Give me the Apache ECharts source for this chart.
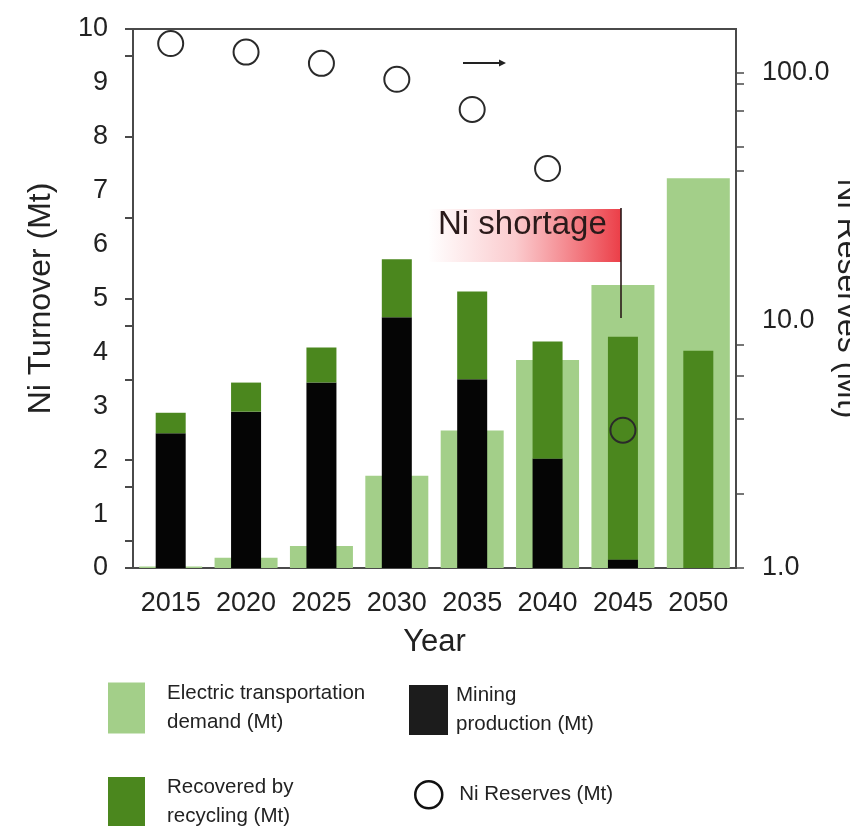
<!DOCTYPE html>
<html>
<head>
<meta charset="utf-8">
<script src="https://cdn.jsdelivr.net/npm/echarts@6/dist/echarts.min.js"></script>
<style>
  html, body { margin: 0; padding: 0; background: #ffffff; }
  #chart { width: 850px; height: 826px; }
</style>
</head>
<body>
<div id="chart"></div>
<script>
// Nickel turnover by year (Mt)
const years = ['2015', '2020', '2025', '2030', '2035', '2040', '2045', '2050'];
const transportDemand = [0.03, 0.19, 0.41, 1.71, 2.55, 3.86, 5.25, 7.23];
const miningProduction = [2.50, 2.90, 3.44, 4.65, 3.50, 2.03, 0.16, 0];
const recycledRecovery = [0.38, 0.54, 0.65, 1.08, 1.63, 2.17, 4.13, 4.03];
// Remaining nickel reserves (Mt), log scale
const niReserves = [131, 121, 109, 94, 71, 41, 3.6, null];

// Axis tick positions
const turnoverLabels = [0, 1, 2, 3, 4, 5, 6, 7, 8, 9, 10];
const turnoverTicks = [0, 0.5, 1.5, 2, 3.5, 4.5, 5, 6.5, 8, 9.5, 10];
const reserveLabels = [1, 10, 100];
const reserveTicks = [1, 2, 4, 6, 8, 40, 50, 70, 90, 100];

const FONT = '"Liberation Sans", Arial, sans-serif';
const TEXT = '#222222';
const AXIS = '#4a4a4a';
const LIGHT_GREEN = '#a3cf89';
const DARK_GREEN = '#4b871e';
const BLACK = '#050505';

const chart = echarts.init(document.getElementById('chart'), null, { renderer: 'canvas' });

const legendBase = {
  orient: 'vertical',
  padding: 0,
  icon: 'rect',
  itemWidth: 37,
  itemHeight: 51,
  selectedMode: false,
  textStyle: { fontFamily: FONT, fontSize: 20.5, lineHeight: 29, color: TEXT, padding: [0, 0, 0, 17] }
};

const option = {
  backgroundColor: '#ffffff',
  animation: false,
  grid: {
    left: 133, right: 114, top: 29, bottom: 258,
    outerBoundsMode: 'none', containLabel: false,
    show: true, borderColor: AXIS, borderWidth: 2, backgroundColor: 'transparent'
  },
  xAxis: [
    {
      type: 'category', data: years, gridIndex: 0,
      axisLine: { show: true, lineStyle: { color: AXIS, width: 2 } },
      axisTick: { show: false },
      axisLabel: { fontFamily: FONT, fontSize: 27, color: TEXT, margin: 22, interval: 0 },
      name: 'Year', nameLocation: 'middle', nameGap: 59,
      nameTextStyle: { fontFamily: FONT, fontSize: 31, color: TEXT }
    },
    { type: 'category', data: years, gridIndex: 0, show: false }
  ],
  yAxis: [
    {
      type: 'value', min: 0, max: 10, interval: 1, position: 'left',
      splitLine: { show: false },
      axisLine: { show: true, lineStyle: { color: AXIS, width: 2 } },
      axisTick: { show: true, length: 8, customValues: turnoverTicks, lineStyle: { color: AXIS, width: 2 } },
      axisLabel: { fontFamily: FONT, fontSize: 27, color: TEXT, margin: 25, customValues: turnoverLabels },
      name: 'Ni Turnover (Mt)', nameLocation: 'middle', nameGap: 76,
      nameTextStyle: { fontFamily: FONT, fontSize: 32, color: TEXT }
    },
    {
      type: 'log', logBase: 10, min: 1, max: 150, position: 'right',
      splitLine: { show: false },
      axisLine: { show: true, lineStyle: { color: AXIS, width: 2 } },
      axisTick: { show: true, length: 8, customValues: reserveTicks, lineStyle: { color: AXIS, width: 1.5 } },
      axisLabel: {
        fontFamily: FONT, fontSize: 27, color: TEXT, margin: 26,
        customValues: reserveLabels,
        formatter: v => Number(v).toFixed(1)
      },
      name: 'Ni Reserves (Mt)', nameLocation: 'middle', nameGap: 95, nameRotate: -90,
      nameMoveOverlap: false,
      nameTextStyle: { fontFamily: FONT, fontSize: 32, color: TEXT }
    }
  ],
  legend: [
    Object.assign({}, legendBase, {
      left: 108, top: 679,
      data: ['Electric transportation demand (Mt)'],
      formatter: () => 'Electric transportation\ndemand (Mt)',
      itemStyle: { color: LIGHT_GREEN, borderWidth: 0 }
    }),
    Object.assign({}, legendBase, {
      left: 108, top: 773,
      itemHeight: 50,
      data: ['Recovered by recycling (Mt)'],
      formatter: () => 'Recovered by\nrecycling (Mt)',
      itemStyle: { color: DARK_GREEN, borderWidth: 0 }
    }),
    Object.assign({}, legendBase, {
      left: 409, top: 681, itemWidth: 39, itemHeight: 50,
      data: ['Mining production (Mt)'],
      formatter: () => 'Mining\nproduction (Mt)',
      itemStyle: { color: '#1c1c1c', borderWidth: 0 },
      textStyle: Object.assign({}, legendBase.textStyle, { padding: [0, 0, 0, 3] })
    }),
    Object.assign({}, legendBase, {
      left: 414, top: 780, icon: 'circle', itemWidth: 27, itemHeight: 27,
      data: ['Ni Reserves (Mt)'],
      itemStyle: { color: 'rgba(0,0,0,0)', borderColor: '#111111', borderWidth: 2.5 },
      textStyle: Object.assign({}, legendBase.textStyle, { padding: [0, 0, 0, 12] })
    })
  ],
  series: [
    {
      name: 'Electric transportation demand (Mt)', type: 'bar',
      xAxisIndex: 1, yAxisIndex: 0, barWidth: 63,
      itemStyle: { color: LIGHT_GREEN },
      data: transportDemand, z: 2
    },
    {
      name: 'Mining production (Mt)', type: 'bar', stack: 'supply',
      xAxisIndex: 0, yAxisIndex: 0, barWidth: 30,
      itemStyle: { color: BLACK },
      data: miningProduction, z: 3
    },
    {
      name: 'Recovered by recycling (Mt)', type: 'bar', stack: 'supply',
      xAxisIndex: 0, yAxisIndex: 0, barWidth: 30,
      itemStyle: { color: DARK_GREEN },
      data: recycledRecovery, z: 3
    },
    {
      name: 'Ni Reserves (Mt)', type: 'scatter',
      xAxisIndex: 0, yAxisIndex: 1,
      symbol: 'circle', symbolSize: 25,
      itemStyle: { color: 'rgba(0,0,0,0)', borderColor: '#2a2a2a', borderWidth: 2, opacity: 1 },
      data: niReserves.map(v => (v == null ? '-' : v)), z: 5
    }
  ],
  graphic: [
    // "Ni shortage" flag
    {
      type: 'rect', z: 1,
      shape: { x: 428, y: 209, width: 193, height: 53 },
      style: {
        fill: new echarts.graphic.LinearGradient(0, 0, 1, 0, [
          { offset: 0, color: 'rgba(240,70,80,0)' },
          { offset: 0.45, color: 'rgba(240,70,80,0.28)' },
          { offset: 1, color: 'rgba(234,52,62,0.95)' }
        ])
      }
    },
    {
      type: 'line', z: 4,
      shape: { x1: 621, y1: 208, x2: 621, y2: 318 },
      style: { stroke: '#2a1a1a', lineWidth: 1.6 }
    },
    {
      type: 'text', z: 6, left: 438, top: 208,
      style: { text: 'Ni shortage', font: '33px ' + FONT, fill: '#2a1a1a' }
    },
    // arrow
    {
      type: 'line', z: 6,
      shape: { x1: 463, y1: 63, x2: 501, y2: 63 },
      style: { stroke: '#222', lineWidth: 2 }
    },
    {
      type: 'polygon', z: 6,
      shape: { points: [[499, 59.5], [506, 63], [499, 66.5]] },
      style: { fill: '#222' }
    }
  ]
};

chart.setOption(option);
</script>
</body>
</html>
